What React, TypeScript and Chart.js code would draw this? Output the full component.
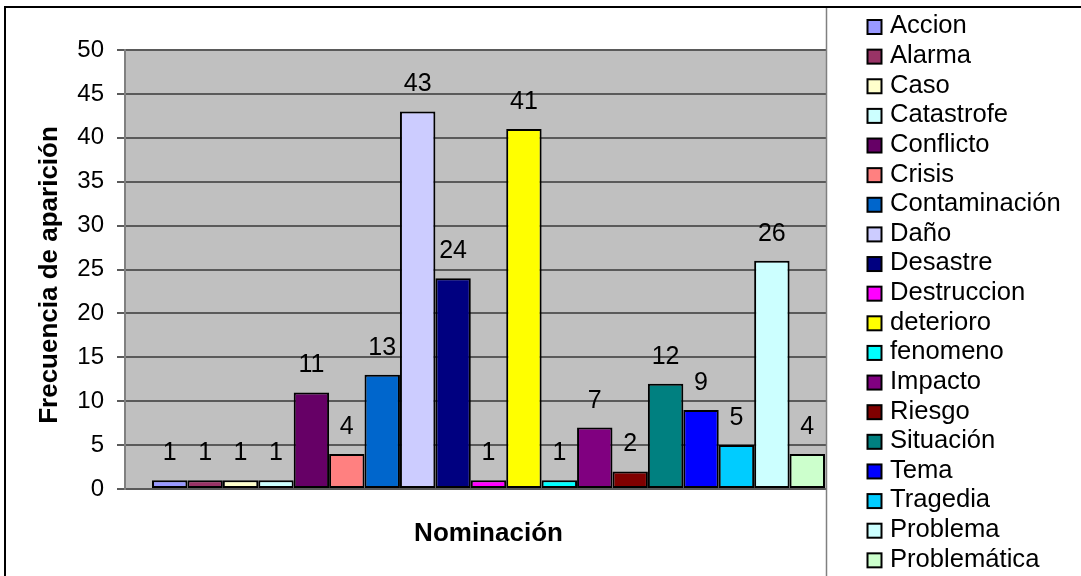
import React, { useEffect, useRef } from "react";
import { Chart, registerables } from "chart.js";

Chart.register(...registerables);

const categories: string[] = [
  "Accion",
  "Alarma",
  "Caso",
  "Catastrofe",
  "Conflicto",
  "Crisis",
  "Contaminación",
  "Daño",
  "Desastre",
  "Destruccion",
  "deterioro",
  "fenomeno",
  "Impacto",
  "Riesgo",
  "Situación",
  "Tema",
  "Tragedia",
  "Problema",
  "Problemática",
];

const values: number[] = [1, 1, 1, 1, 11, 4, 13, 43, 24, 1, 41, 1, 7, 2, 12, 9, 5, 26, 4];

const colors: string[] = [
  "#9999FF",
  "#993366",
  "#FFFFCC",
  "#CCFFFF",
  "#660066",
  "#FF8080",
  "#0066CC",
  "#CCCCFF",
  "#000080",
  "#FF00FF",
  "#FFFF00",
  "#00FFFF",
  "#800080",
  "#800000",
  "#008080",
  "#0000FF",
  "#00CCFF",
  "#CCFFFF",
  "#CCFFCC",
];

const xTitle = "Nominación";
const yTitle = "Frecuencia de aparición";
const yMin = 0;
const yMax = 50;
const yStep = 5;

const FONT = "'Liberation Sans', Arial, sans-serif";

export default function App() {
  const ref = useRef<HTMLCanvasElement>(null);

  useEffect(() => {
    const canvas = ref.current;
    if (!canvas) return;

    const bgPlugin = {
      id: "bgPlugin",
      beforeDraw(chart: any) {
        const { ctx, chartArea } = chart;
        ctx.save();
        ctx.fillStyle = "#FFFFFF";
        ctx.fillRect(0, 0, chart.width, chart.height);
        ctx.fillStyle = "#C0C0C0";
        ctx.fillRect(chartArea.left, chartArea.top, chartArea.right - chartArea.left, chartArea.bottom - chartArea.top);
        ctx.restore();
      },
    };

    const labelPlugin = {
      id: "labelPlugin",
      afterDatasetsDraw(chart: any) {
        const { ctx } = chart;
        ctx.save();
        ctx.font = `25px ${FONT}`;
        ctx.fillStyle = "#000000";
        ctx.textAlign = "center";
        ctx.textBaseline = "alphabetic";
        chart.data.datasets.forEach((ds: any, i: number) => {
          const meta = chart.getDatasetMeta(i);
          const bar = meta.data[0];
          if (!bar) return;
          ctx.fillText(String(ds.data[0]), bar.x, bar.y - 20);
        });
        ctx.restore();
      },
    };

    const yTitlePlugin = {
      id: "yTitlePlugin",
      afterDraw(chart: any) {
        const { ctx } = chart;
        ctx.save();
        ctx.translate(57, 275);
        ctx.rotate(-Math.PI / 2);
        ctx.font = `bold 26px ${FONT}`;
        ctx.fillStyle = "#000000";
        ctx.textAlign = "center";
        ctx.textBaseline = "alphabetic";
        ctx.fillText(yTitle, 0, 0);
        ctx.restore();
      },
    };

    const legendPlugin = {
      id: "legendPlugin",
      afterDraw(chart: any) {
        const { ctx } = chart;
        const lx = 826;
        ctx.save();
        ctx.fillStyle = "#FFFFFF";
        ctx.fillRect(lx, 7, chart.width - lx, chart.height - 7);
        ctx.strokeStyle = "#808080";
        ctx.lineWidth = 1.5;
        ctx.beginPath();
        ctx.moveTo(lx + 0.5, 7);
        ctx.lineTo(lx + 0.5, chart.height);
        ctx.stroke();
        ctx.strokeStyle = "#000000";
        ctx.lineWidth = 2;
        ctx.beginPath();
        ctx.moveTo(5, chart.height);
        ctx.lineTo(5, 7);
        ctx.lineTo(chart.width, 7);
        ctx.stroke();
        ctx.font = `25.6px ${FONT}`;
        ctx.textAlign = "left";
        ctx.textBaseline = "alphabetic";
        chart.data.datasets.forEach((ds: any, i: number) => {
          const cy = 27 + i * 29.63;
          ctx.fillStyle = ds.backgroundColor;
          ctx.fillRect(867.5, cy - 7, 14, 14);
          ctx.strokeStyle = "#000000";
          ctx.lineWidth = 2;
          ctx.strokeRect(867.5, cy - 7, 14, 14);
          ctx.fillStyle = "#000000";
          ctx.fillText(ds.label, 890, cy + 6.4);
        });
        ctx.restore();
      },
    };

    const chart = new Chart(canvas, {
      type: "bar",
      data: {
        labels: [""],
        datasets: categories.map((c, i) => ({
          label: c,
          data: [values[i]],
          backgroundColor: colors[i],
          borderColor: "#000000",
          borderWidth: 2,
          borderSkipped: false,
          categoryPercentage: 673 / 727,
          barPercentage: 1,
        })),
      },
      options: {
        responsive: false,
        devicePixelRatio: 1,
        animation: false,
        layout: { padding: { left: 0, top: 50, right: 1081 - 852, bottom: 0 } },
        plugins: {
          legend: { display: false },
          tooltip: { enabled: false },
          title: { display: false },
        },
        scales: {
          x: {
            type: "category",
            grid: { display: false },
            border: { display: false },
            ticks: { display: false },
            title: {
              display: true,
              text: xTitle,
              color: "#000000",
              font: { family: FONT, size: 26, weight: "bold" },
              padding: { top: 0, bottom: 26.4 },
            },
            afterFit(scale: any) {
              scale.height = 87;
            },
          },
          y: {
            min: yMin,
            max: yMax,
            ticks: {
              stepSize: yStep,
              color: "#000000",
              font: { family: FONT, size: 24 },
              padding: 13,
            },
            grid: {
              color: "#5a5a5a",
              lineWidth: 2,
              tickLength: 8,
            },
            border: { display: true, color: "#808080", width: 2 },
            title: { display: false },
            afterFit(scale: any) {
              scale.width = 125;
            },
          },
        },
      },
      plugins: [bgPlugin, labelPlugin, yTitlePlugin, legendPlugin],
    } as any);

    return () => chart.destroy();
  }, []);

  return (
    <div style={{ position: "fixed", left: 0, top: 0, width: 1081, height: 576, background: "#FFFFFF" }}>
      <canvas ref={ref} width={1081} height={576} style={{ display: "block", width: 1081, height: 576 }} />
    </div>
  );
}
